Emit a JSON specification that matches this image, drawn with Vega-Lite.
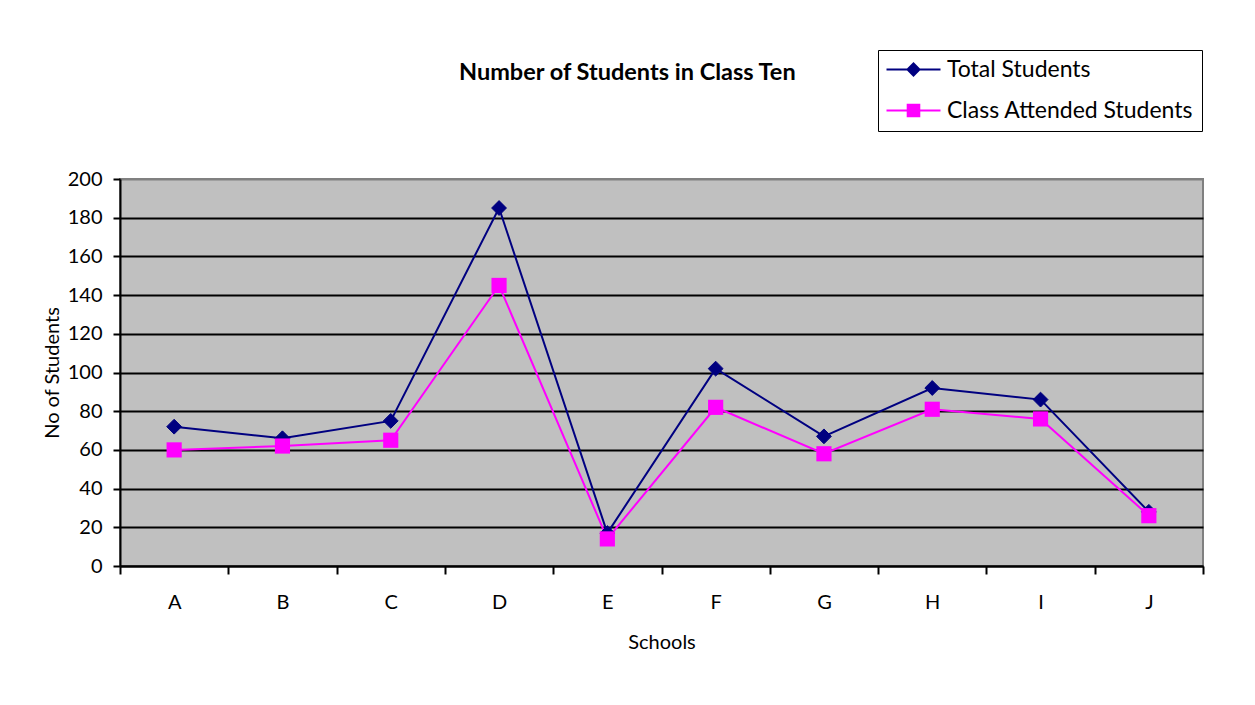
{
  "$schema": "https://vega.github.io/schema/vega-lite/v6.json",
  "width": 1083,
  "height": 387,
  "autosize": {"type": "none"},
  "padding": {"left": 120, "top": 179, "right": 52, "bottom": 139},
  "background": "white",
  "title": {
    "text": "Number of Students in Class Ten",
    "font": "Lato",
    "fontSize": 23.5,
    "fontWeight": "bold",
    "color": "black",
    "anchor": "start",
    "frame": "group",
    "dx": 339,
    "dy": 54,
    "baseline": "alphabetic",
    "offset": 0
  },
  "data": {
    "values": [
      {"school": "A", "series": "Total Students", "students": 72},
      {"school": "B", "series": "Total Students", "students": 66},
      {"school": "C", "series": "Total Students", "students": 75},
      {"school": "D", "series": "Total Students", "students": 185},
      {"school": "E", "series": "Total Students", "students": 17},
      {"school": "F", "series": "Total Students", "students": 102},
      {"school": "G", "series": "Total Students", "students": 67},
      {"school": "H", "series": "Total Students", "students": 92},
      {"school": "I", "series": "Total Students", "students": 86},
      {"school": "J", "series": "Total Students", "students": 28},
      {"school": "A", "series": "Class Attended Students", "students": 60},
      {"school": "B", "series": "Class Attended Students", "students": 62},
      {"school": "C", "series": "Class Attended Students", "students": 65},
      {"school": "D", "series": "Class Attended Students", "students": 145},
      {"school": "E", "series": "Class Attended Students", "students": 14},
      {"school": "F", "series": "Class Attended Students", "students": 82},
      {"school": "G", "series": "Class Attended Students", "students": 58},
      {"school": "H", "series": "Class Attended Students", "students": 81},
      {"school": "I", "series": "Class Attended Students", "students": 76},
      {"school": "J", "series": "Class Attended Students", "students": 26}
    ]
  },
  "encoding": {
    "x": {
      "field": "school",
      "type": "nominal",
      "scale": {"type": "band", "paddingInner": 0, "paddingOuter": 0},
      "axis": {
        "title": "Schools",
        "labelAngle": 0,
        "tickBand": "extent",
        "tickSize": 8,
        "tickWidth": 2,
        "tickColor": "black",
        "domainColor": "black",
        "domainWidth": 2,
        "labelPadding": 18,
        "titlePadding": 20,
        "grid": false
      }
    },
    "y": {
      "field": "students",
      "type": "quantitative",
      "scale": {"domain": [0, 200]},
      "axis": {
        "title": "No of Students",
        "values": [0, 20, 40, 60, 80, 100, 120, 140, 160, 180, 200],
        "grid": true,
        "gridColor": {"condition": {"test": "datum.value === 200", "value": "#808080"}, "value": "black"},
        "gridWidth": 2,
        "gridOpacity": 1,
        "tickSize": 7,
        "tickWidth": 2,
        "tickColor": "black",
        "domainColor": "black",
        "domainWidth": 2,
        "labelPadding": 11,
        "titlePadding": 5
      }
    },
    "stroke": {
      "field": "series",
      "type": "nominal",
      "scale": {
        "domain": ["Total Students", "Class Attended Students"],
        "range": ["#000080", "#FF00FF"]
      }
    }
  },
  "layer": [
    {
      "mark": {"type": "line", "strokeWidth": 2}
    },
    {
      "transform": [{"filter": "datum.series === 'Total Students'"}],
      "mark": {"type": "point", "shape": "diamond", "filled": true, "opacity": 1, "size": 220, "strokeWidth": 1},
      "encoding": {
        "fill": {
          "field": "series",
          "type": "nominal",
          "scale": {
            "domain": ["Total Students", "Class Attended Students"],
            "range": ["#000080", "#FF00FF"]
          }
        }
      }
    },
    {
      "transform": [{"filter": "datum.series === 'Class Attended Students'"}],
      "mark": {"type": "point", "shape": "square", "filled": true, "opacity": 1, "size": 230, "strokeWidth": 0},
      "encoding": {
        "fill": {
          "field": "series",
          "type": "nominal",
          "scale": {
            "domain": ["Total Students", "Class Attended Students"],
            "range": ["#000080", "#FF00FF"]
          }
        }
      }
    },
    {
      "transform": [{"filter": "datum.students < 0"}],
      "mark": {"type": "point", "filled": true, "opacity": 1, "strokeWidth": 2},
      "encoding": {
        "fill": {
          "field": "series",
          "type": "nominal",
          "scale": {
            "domain": ["Total Students", "Class Attended Students"],
            "range": ["#000080", "#FF00FF"]
          }
        },
        "shape": {
          "field": "series",
          "type": "nominal",
          "scale": {
            "domain": ["Total Students", "Class Attended Students"],
            "range": [
              "M-1.1,0H4.3M1,0L1.6,-0.6L2.2,0L1.6,0.6Z",
              "M-1.1,0H4.3M1.02,-0.58H2.18V0.58H1.02Z"
            ]
          }
        }
      }
    }
  ],
  "config": {
    "font": "Lato",
    "view": {"fill": "#C0C0C0", "stroke": "#808080", "strokeWidth": 2},
    "axis": {
      "labelFont": "Lato",
      "labelFontSize": 20,
      "labelColor": "black",
      "titleFont": "Lato",
      "titleFontSize": 20,
      "titleFontWeight": "normal",
      "titleColor": "black"
    },
    "legend": {
      "title": null,
      "orient": "none",
      "legendX": 758,
      "legendY": -129,
      "padding": 8,
      "rowPadding": 17,
      "symbolSize": 400,
      "symbolStrokeWidth": 2,
      "symbolOpacity": 1,
      "labelOffset": 38,
      "labelFontSize": 23,
      "labelFont": "Lato",
      "labelColor": "black",
      "labelLimit": 400,
      "strokeColor": "black",
      "fillColor": "white"
    }
  }
}
